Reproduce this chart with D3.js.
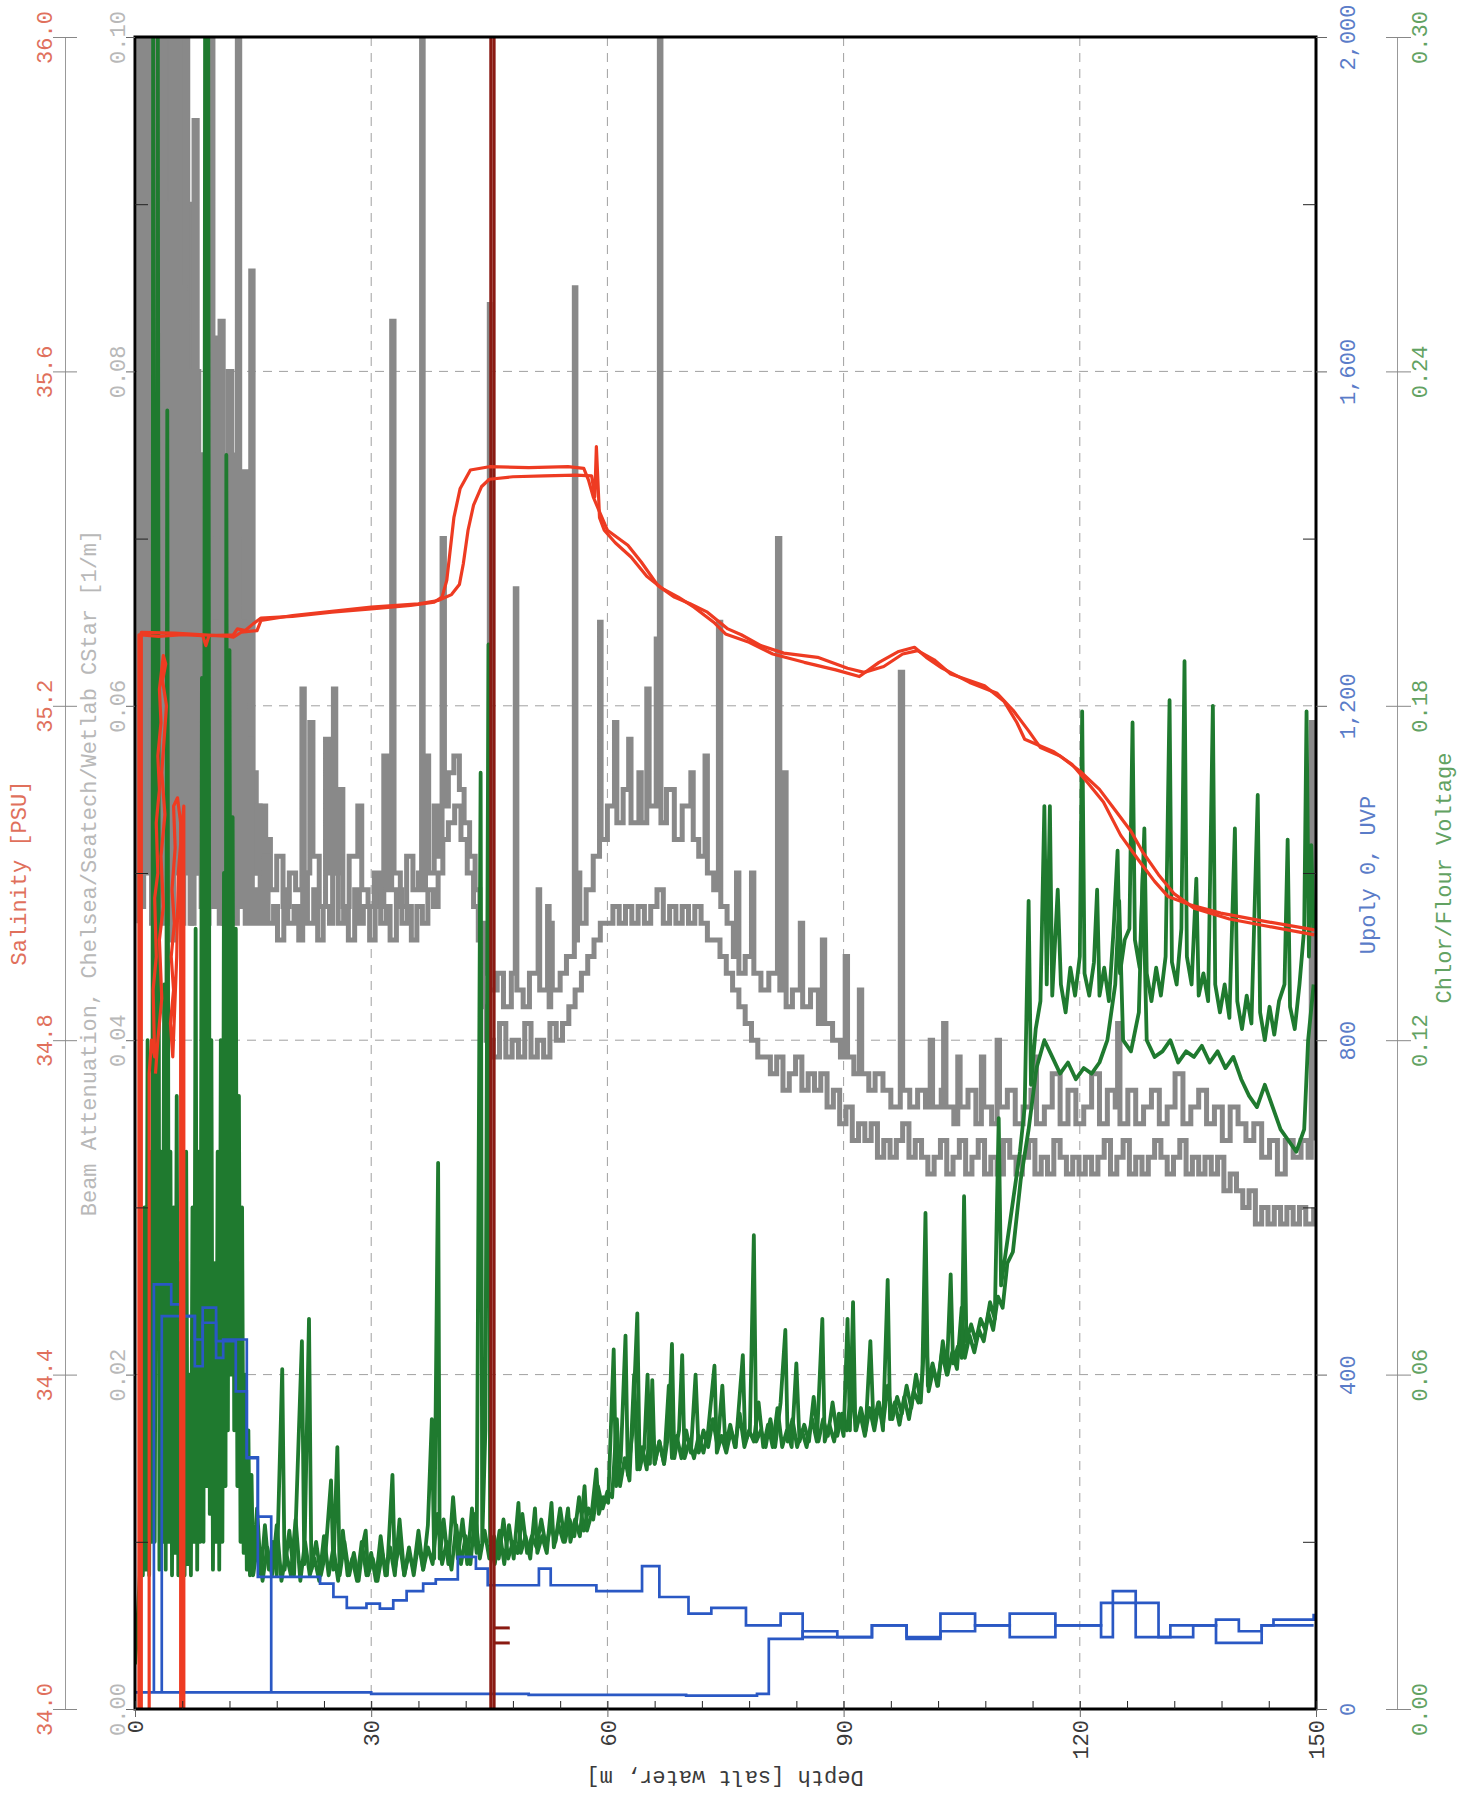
<!DOCTYPE html>
<html><head><meta charset="utf-8">
<script src="https://cdn.jsdelivr.net/npm/d3@7"></script>
<style>
body{margin:0;background:#fff}
svg{display:block}
</style>
</head><body>
<svg id="c" width="1465" height="1796"></svg>
<script>
// ---------- tick labels ----------
const depthTicks = [0, 30, 60, 90, 120, 150];
const salinityTicks = [34.0, 34.4, 34.8, 35.2, 35.6, 36.0];
const beamTicks = [0.00, 0.02, 0.04, 0.06, 0.08, 0.10];
const upolyTicks = [0, 400, 800, 1200, 1600, 2000];
const chlorTicks = [0.00, 0.06, 0.12, 0.18, 0.24, 0.30];
const beamMinor = [0.01, 0.03, 0.05, 0.07, 0.09];
const upolyMinor = [200, 600, 1000, 1400, 1800];

// ---------- Salinity [PSU] (depth, value) ----------
const salDown = [[0.5,34.0],[0.5,35.285],[3,35.283],[6,35.285],[8.6,35.284],[9,35.272],[9.4,35.284],[12.5,35.285],[13,35.292],[14,35.29],[15,35.298],[16,35.305],[20,35.307],[25,35.312],[30,35.316],[35,35.32],[38,35.324],[39,35.33],[39.6,35.35],[40.5,35.425],[41.3,35.46],[42.6,35.482],[45,35.486],[50,35.485],[55,35.486],[57,35.484],[57.6,35.47],[58.2,35.45],[59,35.432],[60,35.41],[62.6,35.392],[64.3,35.372],[66.4,35.344],[68.5,35.33],[70.5,35.322],[72.7,35.312],[75.3,35.292],[77,35.285],[79.5,35.272],[82.4,35.263],[86.7,35.258],[90.5,35.245],[92.6,35.24],[95.1,35.247],[97.5,35.262],[99.4,35.266],[101.5,35.255],[103.6,35.238],[107.9,35.224],[110.4,35.205],[112,35.18],[113,35.16],[116.7,35.145],[119,35.13],[121,35.108],[123,35.085],[125.2,35.045],[127.5,35.015],[129.5,34.99],[131.2,34.972],[134,34.962],[137.9,34.952],[143,34.943],[149.8,34.932]];
const salUp = [[149.8,34.926],[144,34.936],[139,34.945],[134.5,34.958],[132,34.975],[130,34.998],[128,35.025],[126.5,35.05],[124.5,35.075],[122.5,35.1],[120,35.122],[117.5,35.14],[115,35.15],[113.5,35.17],[111.5,35.195],[109.5,35.215],[106,35.228],[102.5,35.245],[100.5,35.258],[99,35.27],[97,35.265],[94.5,35.252],[92,35.235],[89,35.243],[85,35.252],[81,35.262],[78,35.276],[75,35.286],[73.5,35.3],[71,35.318],[69,35.33],[67,35.34],[65,35.355],[63,35.378],[61,35.395],[59.6,35.41],[59,35.425],[58.6,35.51],[58.4,35.45],[58,35.475],[56,35.476],[52,35.475],[48,35.474],[45,35.471],[44,35.462],[43,35.44],[42.3,35.41],[41.7,35.37],[41.2,35.345],[40.2,35.333],[38.5,35.326],[36,35.322],[30,35.318],[25,35.313],[20,35.308],[16,35.302],[15.5,35.29],[13.5,35.288],[12.5,35.282],[12.0,35.283],[5,35.287],[0.8,35.288],[0.8,34.0]];
const salSurf1 = [[1.8,34.0],[1.8,34.76],[2.1,34.8],[2.5,34.78],[2.3,34.86],[2.7,34.9],[2.5,34.97],[2.9,35.0],[2.7,35.06],[3.1,35.1],[2.9,35.14],[3.3,35.18],[3.1,35.22],[3.6,35.26],[3.9,35.25],[3.5,35.23],[4.0,35.2],[3.7,35.16],[3.4,35.12],[3.8,35.07],[3.3,35.02],[3.6,34.96],[3.1,34.92],[3.4,34.85],[2.9,34.8],[2.6,34.76]];
const salSurf2 = [[5.8,34.0],[5.8,35.06],[5.4,35.09],[4.9,35.08],[5.1,35.03],[4.7,34.98],[5.0,34.94],[4.6,34.9],[4.9,34.86],[4.5,34.82],[4.8,34.78],[5.3,34.9],[5.5,35.0],[6.2,35.08],[6.2,34.0]];

// ---------- dark red depth marker ----------
const markerDepths = [45.2, 45.6];
const markerStubs = [[45.6, 47.6, 97], [45.6, 47.6, 79]]; // depth from, depth to, Upoly value

// ---------- Beam attenuation [1/m] ----------
const beamA = [[0.4,0.047],[0.5,0.1],[0.9,0.048],[1.1,0.1],[1.5,0.05],[1.7,0.1],[2.1,0.047],[2.3,0.1],[2.8,0.052],[3.0,0.1],[3.4,0.047],[3.6,0.1],[4.0,0.05],[4.2,0.1],[4.7,0.046],[4.9,0.1],[5.3,0.05],[5.5,0.09],[6.0,0.047],[6.2,0.1],[6.6,0.052],[6.8,0.08],[7.2,0.047],[7.5,0.095],[7.9,0.05],[8.2,0.07],[8.6,0.047],[8.9,0.064],[9.3,0.05],[9.5,0.1],[9.9,0.048],[10.1,0.082],[10.5,0.05],[10.8,0.083],[11.2,0.047],[11.5,0.066],[11.9,0.05],[12.1,0.075],[12.6,0.047],[13.0,0.1],[13.3,0.05],[13.9,0.074],[14.3,0.048],[14.7,0.086],[15.0,0.05],[15.4,0.054],[15.9,0.048],[16.5,0.052],[17.2,0.049],[18.0,0.051],[18.8,0.048],[19.6,0.05],[20.4,0.049],[21.2,0.061],[21.5,0.05],[22.2,0.059],[22.6,0.051],[23.4,0.048],[24.2,0.058],[24.6,0.05],[25.2,0.061],[25.5,0.05],[25.9,0.055],[26.4,0.048],[27.2,0.051],[28.3,0.054],[28.8,0.049],[29.6,0.048],[30.4,0.05],[31.0,0.048],[31.6,0.057],[32.0,0.049],[32.6,0.083],[32.9,0.05],[33.7,0.048],[34.5,0.051],[35.3,0.049],[36.0,0.05],[36.4,0.1],[36.6,0.049],[36.9,0.057],[37.3,0.05],[38.0,0.054],[38.4,0.051],[39.0,0.07],[39.3,0.054],[39.8,0.056],[40.5,0.057],[41.2,0.055],[41.8,0.053],[42.5,0.051],[43.2,0.049],[43.8,0.047],[44.3,0.044],[45.0,0.084],[45.1,0.043],[46.0,0.044],[46.8,0.042],[47.8,0.044],[48.3,0.067],[48.5,0.043],[49.3,0.042],[50.1,0.044],[51.2,0.049],[51.4,0.043],[52.4,0.048],[52.6,0.042],[52.8,0.047],[53.0,0.043],[54.0,0.044],[54.8,0.045],[55.8,0.085],[56.0,0.046],[56.2,0.05],[56.5,0.047],[57.3,0.049],[58.2,0.051],[59.0,0.065],[59.2,0.052],[60.0,0.054],[60.9,0.059],[61.2,0.053],[62.0,0.055],[62.7,0.058],[63.0,0.053],[64.0,0.056],[64.3,0.053],[65.0,0.061],[65.3,0.054],[66.2,0.064],[66.6,0.1],[66.8,0.053],[67.5,0.055],[68.5,0.052],[69.5,0.054],[70.6,0.056],[70.9,0.052],[71.6,0.051],[72.4,0.057],[72.7,0.05],[73.5,0.049],[74.1,0.065],[74.4,0.048],[75.2,0.047],[76.0,0.045],[76.4,0.05],[76.7,0.044],[77.5,0.045],[78.3,0.05],[78.6,0.044],[79.5,0.043],[80.5,0.044],[81.6,0.07],[81.9,0.043],[82.4,0.056],[82.7,0.042],[83.5,0.043],[84.5,0.047],[84.8,0.042],[85.8,0.043],[86.8,0.041],[87.3,0.046],[87.6,0.041],[88.6,0.04],[89.6,0.039],[90.2,0.045],[90.5,0.039],[91.3,0.038],[92.0,0.043],[92.3,0.038],[93.2,0.037],[94.0,0.038],[95.0,0.037],[96.0,0.036],[97.2,0.062],[97.5,0.037],[98.4,0.036],[99.4,0.037],[100.4,0.036],[101.0,0.04],[101.3,0.036],[102.4,0.037],[102.7,0.041],[103.0,0.036],[104.0,0.035],[104.5,0.039],[104.8,0.036],[105.8,0.037],[106.8,0.035],[107.5,0.039],[107.8,0.036],[108.8,0.035],[109.5,0.04],[109.8,0.036],[110.8,0.037],[111.8,0.035],[112.8,0.036],[113.8,0.037],[114.2,0.039],[114.5,0.035],[115.5,0.036],[116.5,0.038],[117.5,0.035],[118.5,0.037],[119.5,0.035],[120.5,0.036],[121.5,0.038],[122.5,0.035],[123.5,0.037],[124.5,0.036],[124.8,0.041],[125.1,0.035],[126.1,0.037],[127.1,0.035],[128.1,0.036],[129.1,0.037],[130.1,0.035],[131.1,0.036],[132.1,0.038],[133.1,0.035],[134.1,0.036],[135.1,0.037],[136.1,0.035],[137.1,0.036],[138.1,0.034],[139.1,0.036],[140.1,0.035],[141.1,0.034],[142.1,0.035],[143.1,0.033],[144.1,0.034],[145.1,0.032],[146.1,0.034],[147.1,0.033],[148.1,0.034],[149.0,0.033],[149.4,0.059],[149.7,0.034]];
const beamB = [[0.3,0.05],[0.7,0.1],[1.2,0.055],[1.4,0.1],[1.8,0.06],[2.0,0.1],[2.5,0.048],[2.7,0.1],[3.1,0.06],[3.3,0.1],[3.8,0.05],[4.0,0.09],[4.4,0.047],[4.6,0.1],[5.0,0.055],[5.2,0.1],[5.7,0.048],[5.9,0.085],[6.3,0.05],[6.5,0.075],[7.0,0.047],[7.2,0.066],[7.7,0.05],[8.0,0.075],[8.4,0.048],[8.7,0.06],[9.1,0.047],[9.4,0.07],[9.7,0.048],[10.3,0.065],[10.7,0.047],[11.0,0.07],[11.4,0.05],[11.8,0.08],[12.3,0.049],[12.6,0.07],[13.2,0.048],[13.6,0.065],[14.0,0.047],[14.5,0.058],[14.9,0.047],[15.5,0.049],[16.0,0.047],[16.4,0.051],[16.9,0.047],[17.6,0.048],[18.1,0.046],[18.9,0.049],[19.4,0.047],[20.2,0.048],[20.8,0.046],[21.3,0.05],[21.9,0.047],[22.7,0.049],[23.2,0.046],[23.9,0.048],[24.7,0.047],[25.1,0.05],[25.8,0.047],[26.5,0.048],[27.1,0.046],[27.9,0.049],[28.5,0.047],[29.0,0.048],[29.8,0.046],[30.5,0.049],[31.2,0.047],[31.9,0.048],[32.4,0.046],[33.2,0.049],[33.9,0.047],[34.6,0.048],[35.1,0.046],[35.8,0.048],[36.5,0.047],[37.2,0.049],[37.9,0.048],[38.5,0.05],[39.1,0.052],[39.8,0.053],[40.6,0.054],[41.4,0.052],[42.2,0.05],[43.0,0.048],[43.6,0.046],[44.2,0.042],[44.6,0.04],[45.5,0.039],[46.3,0.041],[47.1,0.039],[47.9,0.04],[48.7,0.039],[49.5,0.041],[50.3,0.039],[51.1,0.04],[51.9,0.039],[52.7,0.041],[53.5,0.04],[54.3,0.041],[55.1,0.042],[55.9,0.043],[56.7,0.044],[57.5,0.045],[58.3,0.046],[59.1,0.047],[59.9,0.047],[60.7,0.048],[61.5,0.047],[62.3,0.048],[63.1,0.047],[63.9,0.048],[64.7,0.047],[65.5,0.048],[66.3,0.049],[67.1,0.047],[67.9,0.048],[68.7,0.047],[69.5,0.048],[70.3,0.047],[71.1,0.048],[71.9,0.047],[72.7,0.046],[73.5,0.046],[74.3,0.045],[75.1,0.044],[75.9,0.043],[76.7,0.042],[77.5,0.041],[78.3,0.04],[79.1,0.039],[79.9,0.039],[80.7,0.038],[81.5,0.039],[82.3,0.037],[83.1,0.038],[83.9,0.039],[84.7,0.037],[85.5,0.038],[86.3,0.037],[87.1,0.038],[87.9,0.036],[88.7,0.037],[89.5,0.035],[90.3,0.036],[91.1,0.034],[91.9,0.035],[92.7,0.034],[93.5,0.035],[94.3,0.033],[95.1,0.034],[95.9,0.033],[96.7,0.034],[97.5,0.035],[98.3,0.033],[99.1,0.034],[99.9,0.033],[100.7,0.032],[101.5,0.033],[102.3,0.034],[103.1,0.032],[103.9,0.033],[104.7,0.034],[105.5,0.032],[106.3,0.033],[107.1,0.034],[107.9,0.032],[108.7,0.033],[109.5,0.032],[110.3,0.034],[111.1,0.033],[111.9,0.032],[112.7,0.033],[113.5,0.034],[114.3,0.032],[115.1,0.033],[115.9,0.032],[116.7,0.034],[117.5,0.033],[118.3,0.032],[119.1,0.033],[119.9,0.032],[120.7,0.033],[121.5,0.032],[122.3,0.033],[123.1,0.034],[123.9,0.032],[124.7,0.033],[125.5,0.034],[126.3,0.032],[127.1,0.033],[127.9,0.032],[128.7,0.033],[129.5,0.034],[130.3,0.033],[131.1,0.032],[131.9,0.033],[132.7,0.034],[133.5,0.032],[134.3,0.033],[135.1,0.032],[135.9,0.033],[136.7,0.032],[137.5,0.033],[138.3,0.031],[139.1,0.032],[139.9,0.031],[140.7,0.03],[141.5,0.031],[142.3,0.029],[143.1,0.03],[143.9,0.029],[144.7,0.03],[145.5,0.029],[146.3,0.03],[147.1,0.029],[147.9,0.03],[148.7,0.029],[149.7,0.03]];
const beamSurf = [[0.6,0.06],[0.8,0.1],[1.3,0.065],[1.6,0.1],[1.9,0.07],[2.4,0.1],[2.6,0.06],[3.2,0.1],[3.5,0.055],[3.9,0.1],[4.3,0.06],[4.5,0.1],[4.8,0.058],[5.1,0.1],[5.4,0.06],[5.8,0.1],[6.1,0.055],[6.4,0.1],[6.7,0.06],[7.1,0.09],[7.4,0.055],[7.8,0.08],[8.1,0.056],[8.5,0.075],[8.8,0.055],[9.2,0.09],[9.6,0.055],[10.0,0.07],[10.4,0.056],[10.6,0.075],[11.1,0.055],[11.4,0.07],[11.7,0.055],[12.2,0.068],[12.5,0.055],[12.9,0.065],[13.4,0.052],[13.8,0.06],[14.2,0.05],[14.8,0.056],[15.4,0.05],[16.0,0.054],[16.6,0.049]];

// ---------- Upoly 0, UVP ----------
const upolyA = [[0,20],[16.9,20],[30,18],[50,17],[70,16],[79,18],[80.5,20],[80.5,84],[84.8,93],[89.2,86],[93.6,100],[98,84],[102.3,93],[106.7,100],[111.1,86],[116.9,100],[122.7,127],[127.1,86],[131.5,100],[137.3,79],[143.1,100],[149.7,100]];
const upolyB = [[2.4,20],[2.4,508],[4.6,508],[4.6,484],[6.2,484],[6.2,470],[7.6,470],[7.6,442],[8.6,442],[8.6,462],[10.3,462],[10.3,420],[11.2,420],[11.2,442],[14.2,442],[14.2,301],[15.6,301],[15.6,230],[17.3,225],[17.3,20]];
const upolyC = [[3.4,20],[3.4,470],[7.6,470],[7.6,410],[8.6,410],[8.6,480],[10.3,480],[10.3,440],[12.8,440],[12.8,380],[14.2,380],[14.2,300],[15.6,300],[15.6,158],[20.9,158],[23.5,150],[25.2,134],[26.9,121],[29.4,126],[31.1,120],[32.8,130],[34.5,141],[36.6,150],[38.2,155],[41,182],[43.3,168],[44.8,148],[51.3,168],[52.8,148],[58.6,141],[64.4,171],[66.6,134],[70.3,114],[73.2,121],[77.6,100],[82,114],[84.8,86],[93.6,100],[98,86],[102.3,114],[106.7,100],[111.1,114],[116.9,100],[118.4,100],[122.7,86],[124.2,141],[127.1,127],[130,86],[134.4,100],[137.3,107],[140.2,93],[143.1,100],[144.6,107],[149.7,114]];

// ---------- Chlor/Flour Voltage ----------
const chlorA = [[0,0.008],[0.2,0.012],[0.4,0.018],[0.6,0.024],[0.8,0.06],[1.0,0.024],[1.2,0.09],[1.4,0.025],[1.6,0.12],[1.8,0.024],[2.0,0.1],[2.2,0.03],[2.3,0.3],[2.5,0.03],[2.7,0.11],[2.9,0.3],[3.1,0.025],[3.3,0.1],[3.5,0.03],[3.7,0.13],[3.9,0.025],[4.1,0.233],[4.3,0.03],[4.5,0.1],[4.7,0.024],[4.9,0.09],[5.1,0.028],[5.3,0.11],[5.5,0.024],[5.7,0.08],[5.9,0.03],[6.1,0.065],[6.3,0.024],[6.5,0.1],[6.7,0.026],[6.9,0.06],[7.1,0.024],[7.3,0.09],[7.5,0.03],[7.7,0.14],[7.9,0.025],[8.1,0.1],[8.3,0.03],[8.5,0.185],[8.7,0.03],[8.9,0.3],[9.1,0.04],[9.3,0.3],[9.5,0.035],[9.7,0.12],[9.9,0.025],[10.1,0.08],[10.3,0.03],[10.5,0.1],[10.7,0.025],[10.9,0.12],[11.1,0.03],[11.3,0.15],[11.5,0.04],[11.6,0.225],[11.8,0.05],[12.0,0.19],[12.2,0.06],[12.4,0.16],[12.6,0.05],[12.8,0.14],[13.0,0.04],[13.2,0.11],[13.4,0.03],[13.6,0.09],[13.8,0.028],[14.0,0.06],[14.2,0.025],[14.4,0.05],[14.6,0.024],[14.8,0.042],[15.0,0.024],[15.5,0.036],[16,0.024],[16.5,0.033],[17,0.025],[17.5,0.03],[18,0.024],[18.7,0.061],[19,0.025],[19.6,0.032],[20.2,0.024],[21.2,0.066],[21.5,0.026],[22.1,0.07],[22.4,0.025],[23,0.03],[23.6,0.024],[24.2,0.028],[24.9,0.041],[25.2,0.025],[25.7,0.047],[26,0.024],[26.6,0.03],[27.2,0.024],[27.8,0.028],[28.4,0.023],[29.0,0.03],[29.3,0.032],[29.6,0.024],[30.2,0.027],[30.8,0.023],[31.4,0.028],[32.0,0.024],[32.7,0.042],[33,0.025],[33.6,0.03],[34.2,0.024],[34.8,0.029],[35.4,0.024],[36.0,0.03],[36.6,0.025],[37.2,0.033],[37.7,0.052],[38.0,0.027],[38.5,0.098],[38.7,0.027],[39.2,0.034],[39.8,0.026],[40.4,0.038],[41.0,0.027],[41.6,0.034],[42.2,0.026],[42.8,0.036],[43.4,0.028],[43.9,0.168],[44.1,0.03],[44.5,0.05],[44.9,0.191],[45.1,0.03],[45.7,0.026],[46.3,0.032],[46.9,0.026],[47.5,0.033],[48.1,0.027],[48.7,0.037],[49.0,0.028],[49.6,0.031],[50.2,0.027],[50.8,0.036],[51.1,0.028],[51.7,0.031],[52.3,0.028],[52.9,0.037],[53.2,0.029],[53.8,0.033],[54.4,0.03],[55.0,0.036],[55.3,0.03],[55.9,0.034],[56.5,0.031],[57.1,0.04],[57.4,0.032],[58.0,0.035],[58.6,0.043],[58.9,0.035],[59.5,0.038],[60.1,0.037],[60.8,0.0645],[61.1,0.04],[61.7,0.045],[62.3,0.067],[62.6,0.042],[63.2,0.05],[63.8,0.071],[64.1,0.043],[64.7,0.047],[65.1,0.06],[65.4,0.044],[65.7,0.059],[66.0,0.044],[66.6,0.048],[67.2,0.044],[67.8,0.05],[68.2,0.0655],[68.5,0.045],[69.1,0.05],[69.5,0.0635],[69.8,0.045],[70.4,0.048],[71.0,0.045],[71.6,0.049],[72.2,0.046],[72.8,0.05],[73.6,0.0616],[73.9,0.046],[74.5,0.049],[75.1,0.046],[75.7,0.05],[76.3,0.047],[77.2,0.0635],[77.5,0.048],[78.1,0.05],[78.6,0.085],[78.9,0.048],[79.5,0.05],[80.1,0.047],[80.7,0.052],[81.3,0.047],[82.0,0.055],[82.6,0.068],[82.9,0.048],[83.5,0.052],[84.1,0.047],[84.7,0.05],[85.3,0.047],[86.0,0.052],[86.6,0.048],[87.3,0.07],[87.6,0.048],[88.2,0.051],[88.8,0.048],[89.4,0.053],[90.0,0.049],[90.5,0.07],[90.8,0.05],[91.2,0.073],[91.5,0.05],[92.1,0.053],[92.7,0.049],[93.3,0.054],[93.9,0.05],[94.5,0.055],[95.0,0.05],[95.6,0.077],[95.9,0.052],[96.5,0.055],[97.1,0.051],[97.7,0.056],[98.3,0.052],[98.9,0.057],[99.5,0.055],[100.0,0.06],[100.4,0.089],[100.7,0.058],[101.3,0.062],[101.9,0.058],[102.5,0.064],[103.1,0.06],[103.6,0.078],[103.9,0.062],[104.5,0.065],[105.0,0.063],[105.3,0.092],[105.6,0.066],[106.2,0.069],[106.8,0.066],[107.4,0.07],[108.0,0.068],[108.6,0.073],[109.2,0.07],[109.7,0.106],[110.0,0.076],[110.6,0.082],[111.2,0.088],[111.8,0.094],[112.4,0.1],[113.0,0.108],[113.5,0.145],[113.8,0.112],[114.4,0.122],[115.0,0.127],[115.5,0.162],[115.8,0.13],[116.2,0.162],[116.5,0.128],[117.2,0.147],[117.6,0.13],[118.2,0.125],[118.8,0.133],[119.4,0.128],[120.0,0.135],[120.3,0.179],[120.6,0.132],[121.2,0.128],[121.8,0.134],[122.2,0.147],[122.5,0.128],[123.1,0.133],[123.7,0.127],[124.3,0.14],[124.8,0.154],[125.1,0.132],[125.7,0.138],[126.3,0.14],[126.7,0.177],[127.0,0.138],[127.6,0.133],[128.2,0.158],[128.5,0.132],[129.1,0.127],[129.7,0.133],[130.3,0.128],[130.9,0.135],[131.4,0.181],[131.7,0.134],[132.3,0.13],[132.9,0.14],[133.3,0.188],[133.6,0.135],[134.2,0.13],[134.8,0.149],[135.1,0.128],[135.7,0.132],[136.3,0.127],[136.9,0.18],[137.2,0.13],[137.8,0.125],[138.4,0.13],[139.0,0.124],[139.7,0.158],[140.0,0.127],[140.6,0.122],[141.2,0.128],[141.8,0.123],[142.6,0.164],[142.9,0.125],[143.5,0.12],[144.1,0.126],[144.7,0.121],[145.3,0.127],[146.0,0.13],[146.4,0.156],[146.7,0.126],[147.3,0.122],[147.9,0.13],[148.5,0.14],[148.8,0.179],[149.1,0.135],[149.4,0.155],[149.7,0.14]];
const chlorB = [[15,0.024],[15.6,0.03],[16.2,0.023],[16.8,0.029],[17.4,0.024],[18,0.033],[18.6,0.023],[19.2,0.028],[19.8,0.024],[20.4,0.034],[21,0.023],[21.6,0.03],[22.2,0.024],[22.8,0.027],[23.4,0.023],[24,0.031],[24.6,0.024],[25.2,0.029],[25.8,0.023],[26.4,0.032],[27,0.024],[27.6,0.027],[28.2,0.023],[28.8,0.03],[29.4,0.024],[30,0.028],[30.6,0.023],[31.2,0.031],[31.8,0.024],[32.4,0.029],[33,0.024],[33.6,0.034],[34.2,0.024],[34.8,0.028],[35.4,0.025],[36,0.032],[36.6,0.025],[37.2,0.029],[37.8,0.026],[38.4,0.035],[39,0.026],[39.6,0.03],[40.2,0.025],[40.8,0.033],[41.4,0.026],[42,0.031],[42.6,0.026],[43.2,0.035],[43.8,0.027],[44.4,0.032],[45,0.027],[45.6,0.031],[46.2,0.027],[46.8,0.034],[47.4,0.027],[48,0.03],[48.6,0.028],[49.2,0.035],[49.8,0.028],[50.4,0.031],[51,0.029],[51.6,0.034],[52.2,0.029],[52.8,0.033],[53.4,0.03],[54,0.036],[54.6,0.03],[55.2,0.034],[55.8,0.031],[56.4,0.038],[57,0.032],[57.6,0.036],[58.2,0.034],[58.8,0.04],[59.4,0.036],[60,0.039],[60.6,0.038],[61.2,0.052],[61.6,0.04],[62.2,0.045],[62.8,0.041],[63.4,0.06],[63.8,0.043],[64.4,0.047],[65,0.043],[65.6,0.055],[66,0.044],[66.6,0.048],[67.2,0.044],[67.8,0.058],[68.2,0.045],[68.8,0.049],[69.4,0.045],[70,0.05],[70.6,0.046],[71.2,0.06],[71.6,0.046],[72.2,0.05],[72.8,0.047],[73.4,0.052],[74,0.047],[74.6,0.058],[75,0.047],[75.6,0.051],[76.2,0.047],[76.8,0.053],[77.4,0.047],[78,0.05],[78.6,0.048],[79.2,0.055],[79.8,0.047],[80.4,0.051],[81,0.047],[81.6,0.054],[82.2,0.047],[82.8,0.05],[83.4,0.047],[84,0.062],[84.4,0.048],[85,0.051],[85.6,0.048],[86.2,0.056],[86.8,0.048],[87.4,0.052],[88,0.049],[88.6,0.055],[89.2,0.049],[89.8,0.053],[90.4,0.05],[91,0.057],[91.6,0.05],[92.2,0.054],[92.8,0.05],[93.4,0.066],[93.8,0.051],[94.4,0.055],[95,0.051],[95.6,0.058],[96.2,0.052],[96.8,0.056],[97.4,0.053],[98,0.058],[98.6,0.054],[99.2,0.06],[99.8,0.055],[100.4,0.07],[100.8,0.057],[101.4,0.061],[102,0.058],[102.6,0.066],[103.2,0.06],[103.8,0.064],[104.4,0.061],[105,0.072],[105.4,0.063],[106,0.067],[106.6,0.064],[107.2,0.068],[107.8,0.066],[108.4,0.071],[109,0.068],[109.6,0.074],[110.2,0.072],[110.8,0.08],[111.5,0.082],[112.5,0.095],[113.5,0.104],[114.5,0.115],[115.5,0.12],[116.5,0.117],[117.5,0.114],[118.5,0.116],[119.5,0.113],[120.5,0.115],[121.5,0.114],[122.5,0.116],[123.5,0.12],[124.5,0.13],[125,0.145],[125.5,0.12],[126.5,0.118],[127.5,0.125],[128,0.15],[128.5,0.12],[129.5,0.117],[130.5,0.118],[131.5,0.12],[132.5,0.116],[133.5,0.118],[134.5,0.117],[135.5,0.119],[136.5,0.116],[137.5,0.118],[138.5,0.115],[139.5,0.117],[140.5,0.113],[141.5,0.11],[142.5,0.108],[143.5,0.112],[144.5,0.108],[145.5,0.104],[146.5,0.102],[147.5,0.1],[148.5,0.104],[149,0.12],[149.7,0.13]];

// ---------- layout ----------
const L = 135, R = 1316, T = 37, B = 1709;
const MONO = '"Liberation Mono","DejaVu Sans Mono",monospace';
const FS = 22;
const col = {sal:"#ee3b22", salTxt:"#e0705c", beam:"#898989", beamTxt:"#b8b8b8", up:"#2a58c4", upTxt:"#5a7cc8", chl:"#1f7a2f", chlTxt:"#62a262", marker:"#8a1a12"};

const x = d3.scaleLinear().domain([0,150]).range([L,R]);
const ySal = d3.scaleLinear().domain([34,36]).range([B,T]);
const yBeam = d3.scaleLinear().domain([0,0.1]).range([B,T]);
const yUp = d3.scaleLinear().domain([0,2000]).range([B,T]);
const yChl = d3.scaleLinear().domain([0,0.3]).range([B,T]);

const svg = d3.select("#c");
svg.append("defs").append("clipPath").attr("id","clip").append("rect")
  .attr("x",L).attr("y",T).attr("width",R-L).attr("height",B-T);

// grid
const grid = svg.append("g").attr("stroke","#a0a0a0").attr("stroke-width",1).attr("stroke-dasharray","9,7");
grid.selectAll("line.v").data(depthTicks.slice(1,-1)).join("line").attr("class","v")
  .attr("x1",d=>x(d)).attr("x2",d=>x(d)).attr("y1",T).attr("y2",B);
grid.selectAll("line.h").data(beamTicks.slice(1,-1)).join("line").attr("class","h")
  .attr("x1",L).attr("x2",R).attr("y1",d=>yBeam(d)).attr("y2",d=>yBeam(d));

// data
const plot = svg.append("g").attr("clip-path","url(#clip)");
const lineStep = (ys) => d3.line().x(d=>x(d[0])).y(d=>ys(d[1])).curve(d3.curveStepAfter);
const lineLin = (ys) => d3.line().x(d=>x(d[0])).y(d=>ys(d[1]));

[beamSurf, beamA, beamB].forEach(s => plot.append("path").datum(s).attr("d", lineStep(yBeam))
  .attr("fill","none").attr("stroke",col.beam).attr("stroke-width",5).attr("stroke-linejoin","miter"));
[chlorB, chlorA].forEach(s => plot.append("path").datum(s).attr("d", lineLin(yChl))
  .attr("fill","none").attr("stroke",col.chl).attr("stroke-width",3.8).attr("stroke-linejoin","round"));
[upolyA, upolyB, upolyC].forEach(s => plot.append("path").datum(s).attr("d", lineStep(yUp))
  .attr("fill","none").attr("stroke",col.up).attr("stroke-width",2.7));
plot.selectAll("line.marker").data(markerDepths).join("line").attr("class","marker")
  .attr("x1",d=>x(d)).attr("x2",d=>x(d)).attr("y1",yBeam(0)).attr("y2",yBeam(0.1))
  .attr("stroke",col.marker).attr("stroke-width",3.2);
plot.selectAll("line.stub").data(markerStubs).join("line").attr("class","stub")
  .attr("x1",d=>x(d[0])).attr("x2",d=>x(d[1])).attr("y1",d=>yUp(d[2])).attr("y2",d=>yUp(d[2]))
  .attr("stroke",col.marker).attr("stroke-width",3);
[salDown, salUp, salSurf1, salSurf2].forEach(s => plot.append("path").datum(s).attr("d", lineLin(ySal))
  .attr("fill","none").attr("stroke",col.sal).attr("stroke-width",3.2).attr("stroke-linejoin","round"));

// frame
svg.append("rect").attr("x",L).attr("y",T).attr("width",R-L).attr("height",B-T)
  .attr("fill","none").attr("stroke","#000").attr("stroke-width",3);

function styleAxis(g, color){
  g.attr("font-family",MONO).attr("font-size",FS);
  g.selectAll(".tick text").attr("fill",color);
  return g;
}
function rotLabels(g, dxShift){
  g.selectAll(".tick text").attr("x",0).attr("y",0).attr("dy","0.35em")
    .attr("text-anchor","middle").attr("transform",`translate(${dxShift},0) rotate(-90)`);
}

// salinity axis (far left)
const gSal = svg.append("g").attr("transform","translate(65,0)")
  .call(d3.axisLeft(ySal).tickValues(salinityTicks).tickFormat(d3.format(".1f")).tickSizeOuter(0).tickSize(12));
styleAxis(gSal, col.salTxt);
gSal.select(".domain").attr("stroke","#999");
gSal.selectAll(".tick line").attr("x1",-12).attr("x2",12).attr("stroke","#888");
rotLabels(gSal, -21);

// beam axis (frame left)
const gBeam = svg.append("g").attr("transform",`translate(${L},0)`)
  .call(d3.axisLeft(yBeam).tickValues(beamTicks).tickFormat(d3.format(".2f")).tickSizeOuter(0).tickSize(9));
styleAxis(gBeam, col.beamTxt);
gBeam.select(".domain").remove();
gBeam.selectAll(".tick line").attr("stroke","#666");
rotLabels(gBeam, -18);
const gBeamMinor = svg.append("g").attr("transform",`translate(${L},0)`)
  .call(d3.axisRight(yBeam).tickValues(beamMinor).tickFormat("").tickSizeOuter(0).tickSize(13));
gBeamMinor.select(".domain").remove();
gBeamMinor.selectAll(".tick line").attr("stroke","#222");

// upoly axis (frame right)
const gUp = svg.append("g").attr("transform",`translate(${R},0)`)
  .call(d3.axisRight(yUp).tickValues(upolyTicks).tickFormat(d3.format(",")).tickSizeOuter(0).tickSize(11));
styleAxis(gUp, col.upTxt);
gUp.select(".domain").remove();
gUp.selectAll(".tick line").attr("stroke","#666");
rotLabels(gUp, 31);
const gUpMinor = svg.append("g").attr("transform",`translate(${R},0)`)
  .call(d3.axisLeft(yUp).tickValues(upolyMinor).tickFormat("").tickSizeOuter(0).tickSize(13));
gUpMinor.select(".domain").remove();
gUpMinor.selectAll(".tick line").attr("stroke","#222");

// chlor axis (far right)
const gChl = svg.append("g").attr("transform","translate(1397,0)")
  .call(d3.axisRight(yChl).tickValues(chlorTicks).tickFormat(d3.format(".2f")).tickSizeOuter(0).tickSize(12));
styleAxis(gChl, col.chlTxt);
gChl.select(".domain").attr("stroke","#999");
gChl.selectAll(".tick line").attr("x1",-11).attr("x2",14).attr("stroke","#888");
rotLabels(gChl, 22);

// depth axis (bottom)
const gDepth = svg.append("g").attr("transform",`translate(0,${B})`)
  .call(d3.axisBottom(x).tickValues(depthTicks).tickFormat(d3.format("d")).tickSizeOuter(0).tickSize(8));
styleAxis(gDepth, "#3a3a3a");
gDepth.select(".domain").remove();
gDepth.selectAll(".tick line").attr("stroke","#666");
gDepth.selectAll(".tick text").attr("x",0).attr("y",0).attr("dy","0.35em")
  .attr("text-anchor","end").attr("transform","translate(0,11) rotate(-90)");
const gDepthMinor = svg.append("g").attr("transform",`translate(0,${B})`)
  .call(d3.axisTop(x).tickValues(d3.range(0,151,6)).tickFormat("").tickSizeOuter(0).tickSize(8));
gDepthMinor.select(".domain").remove();
gDepthMinor.selectAll(".tick line").attr("stroke","#222");

// titles
const titles = [
  {t:"Salinity [PSU]", x:18, y:873, r:-90, c:col.salTxt},
  {t:"Beam Attenuation, Chelsea/Seatech/Wetlab CStar [1/m]", x:88, y:873, r:-90, c:col.beamTxt},
  {t:"Upoly 0, UVP", x:1367, y:875, r:-90, c:col.upTxt},
  {t:"Chlor/Flour Voltage", x:1443, y:878, r:-90, c:col.chlTxt},
  {t:"Depth [salt water, m]", x:725, y:1779, r:180, c:"#3a3a3a"}
];
svg.selectAll("text.title").data(titles).join("text").attr("class","title")
  .attr("transform",d=>`translate(${d.x},${d.y}) rotate(${d.r})`)
  .attr("text-anchor","middle").attr("dy","0.35em")
  .attr("font-family",MONO).attr("font-size",FS).attr("fill",d=>d.c).text(d=>d.t);
</script>
</body></html>
